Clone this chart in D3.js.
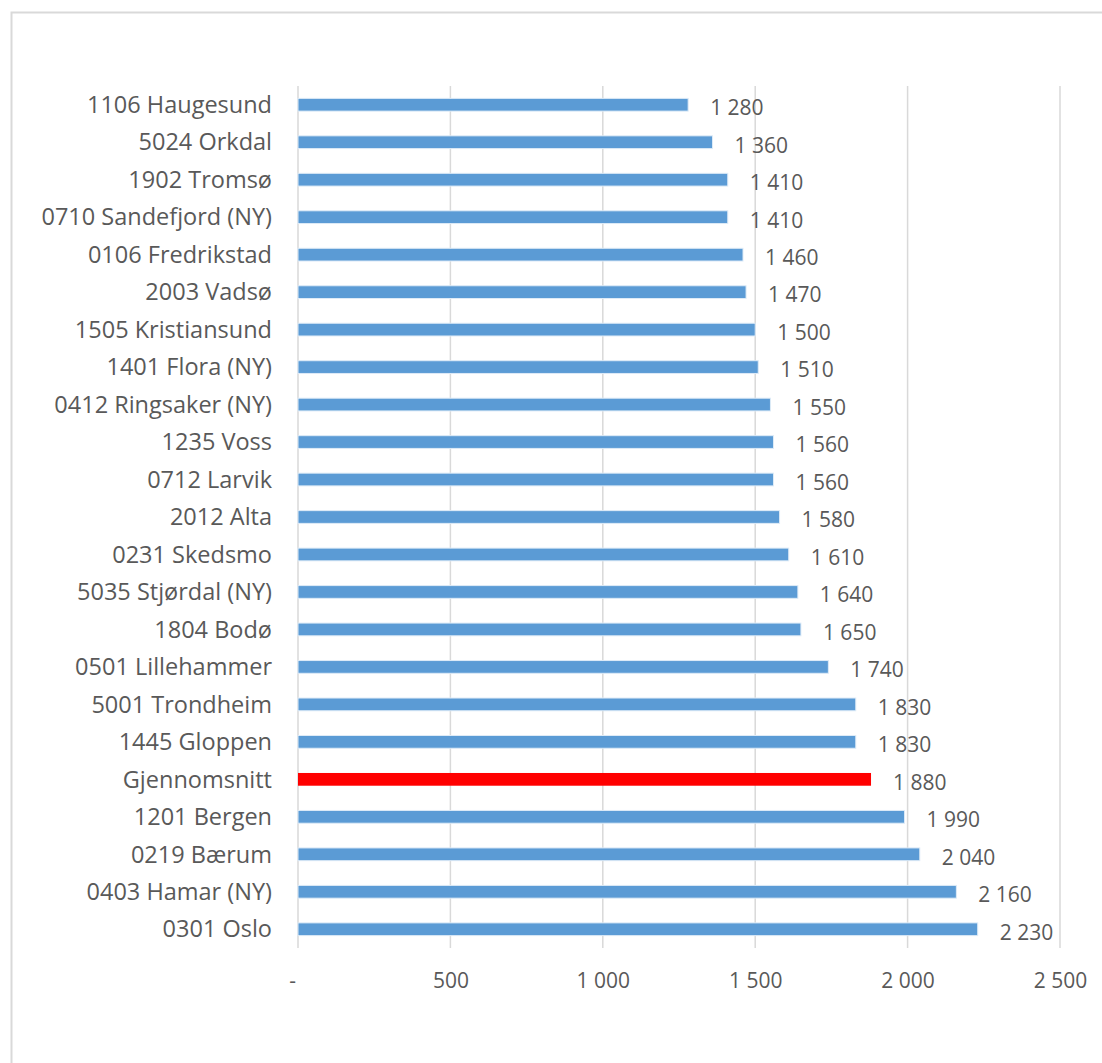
<!DOCTYPE html>
<html>
<head>
<meta charset="utf-8">
<script src="https://cdn.jsdelivr.net/npm/d3@7"></script>
<style>
  body { margin: 0; background: #fff; }
  text { font-family: "Open Sans", "Liberation Sans", sans-serif; fill: #595959; }
</style>
</head>
<body>
<svg class="frame"></svg>
<script>
const categories = [
  "1106 Haugesund", "5024 Orkdal", "1902 Tromsø", "0710 Sandefjord (NY)",
  "0106 Fredrikstad", "2003 Vadsø", "1505 Kristiansund", "1401 Flora (NY)",
  "0412 Ringsaker (NY)", "1235 Voss", "0712 Larvik", "2012 Alta",
  "0231 Skedsmo", "5035 Stjørdal (NY)", "1804 Bodø", "0501 Lillehammer",
  "5001 Trondheim", "1445 Gloppen", "Gjennomsnitt", "1201 Bergen",
  "0219 Bærum", "0403 Hamar (NY)", "0301 Oslo"
];
const values = [
  1280, 1360, 1410, 1410, 1460, 1470, 1500, 1510, 1550, 1560, 1560, 1580,
  1610, 1640, 1650, 1740, 1830, 1830, 1880, 1990, 2040, 2160, 2230
];
const highlight = "Gjennomsnitt";
const xTicks = [0, 500, 1000, 1500, 2000, 2500];

const width = 1102, height = 1063;
const margin = {top: 86, right: 42, bottom: 115, left: 298};

const fmt = (v) => v === 0 ? "-" : d3.format(",")(v).replace(/,/g, " ");

const svg = d3.select(".frame")
  .attr("width", width)
  .attr("height", height);

svg.append("rect")
  .attr("x", 11.5)
  .attr("y", 12.5)
  .attr("width", width + 10)
  .attr("height", height + 10)
  .attr("fill", "none")
  .attr("stroke", "#d9d9d9")
  .attr("stroke-width", 2);

const data = categories.map((c, i) => ({name: c, value: values[i]}));

const xScale = d3.scaleLinear()
  .domain([0, 2500])
  .range([margin.left, width - margin.right]);

const yScale = d3.scaleBand()
  .domain(categories)
  .range([margin.top, height - margin.bottom])
  .paddingInner(0.66)
  .paddingOuter(0.33);

// gridlines
svg.append("g")
  .selectAll("line")
  .data(xTicks)
  .enter().append("line")
  .attr("x1", (d) => xScale(d))
  .attr("x2", (d) => xScale(d))
  .attr("y1", margin.top)
  .attr("y2", height - margin.bottom)
  .attr("stroke", "#d9d9d9")
  .attr("stroke-width", 1.5);

// x tick labels
const xAxis = d3.axisBottom(xScale)
  .tickValues(xTicks)
  .tickFormat(fmt)
  .tickSize(0)
  .tickPadding(0);

const gx = svg.append("g")
  .attr("transform", "translate(0," + (height - margin.bottom) + ")")
  .call(xAxis);
gx.select(".domain").remove();
gx.selectAll("text")
  .attr("y", 39.5)
  .attr("dy", 0)
  .style("font-size", "21px")
  .style("fill", "#595959");
gx.selectAll("text").filter((d) => d === 0).attr("dx", -6);

// category labels
const yAxis = d3.axisLeft(yScale).tickSize(0).tickPadding(26);
const gy = svg.append("g")
  .attr("transform", "translate(" + margin.left + ",0)")
  .call(yAxis);
gy.select(".domain").remove();
gy.selectAll("text")
  .style("font-size", "23.5px")
  .style("fill", "#595959")
  .attr("dy", "0.35em");

// bars
svg.append("g")
  .selectAll("rect")
  .data(data)
  .enter().append("rect")
  .attr("x", xScale(0))
  .attr("y", (d) => yScale(d.name))
  .attr("width", (d) => xScale(d.value) - xScale(0))
  .attr("height", yScale.bandwidth())
  .attr("fill", (d) => d.name === highlight ? "#ff0000" : "#5b9bd5")
  .attr("stroke", (d) => d.name === highlight ? "none" : "#deebf7")
  .attr("stroke-width", 1);

// value labels
svg.append("g")
  .selectAll("text")
  .data(data)
  .enter().append("text")
  .attr("x", (d) => xScale(d.value) + 22)
  .attr("y", (d) => yScale(d.name) + yScale.bandwidth() / 2 + 3)
  .attr("dy", "0.35em")
  .style("font-size", "21px")
  .text((d) => fmt(d.value));
</script>
</body>
</html>
